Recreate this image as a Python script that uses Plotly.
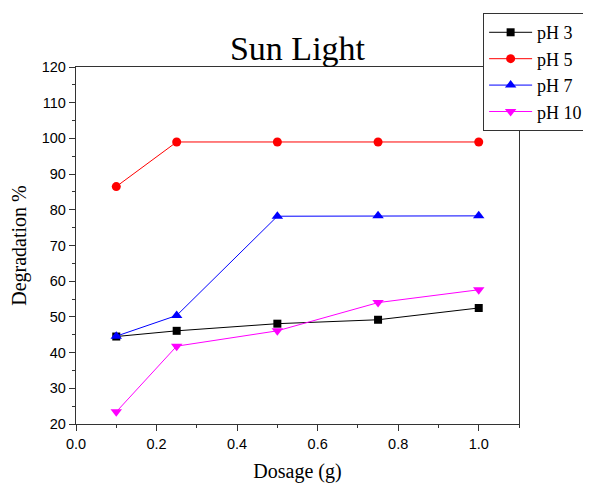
import plotly.graph_objects as go

dosage = [0.1, 0.25, 0.5, 0.75, 1.0]
ph3 = [44.5, 46.1, 48.1, 49.2, 52.5]
ph5 = [86.5, 99.0, 99.0, 99.0, 99.0]
ph7 = [44.6, 50.4, 78.2, 78.3, 78.3]
ph10 = [23.4, 41.8, 46.1, 54.0, 57.6]

series = [
    ("pH 3", ph3, "black", "square", 8),
    ("pH 5", ph5, "red", "circle", 9),
    ("pH 7", ph7, "blue", "triangle-up", 10),
    ("pH 10", ph10, "magenta", "triangle-down", 10),
]

fig = go.Figure()
for name, vals, col, sym, sz in series:
    fig.add_trace(go.Scatter(
        x=dosage, y=vals, name=name, mode="lines+markers",
        line=dict(color=col, width=1),
        marker=dict(symbol=sym, size=sz, color=col, line=dict(width=0)),
    ))

axis_common = dict(
    showline=True, linecolor="#333", linewidth=1.3, mirror=True,
    ticks="outside", ticklen=6, tickwidth=1, tickcolor="#333",
    showgrid=False, zeroline=False,
    tickfont=dict(family="Liberation Sans, Arial", size=14.5, color="black"),
)

fig.update_xaxes(
    range=[0, 1.1], dtick=0.2, tick0=0, tickformat=".1f",
    minor=dict(dtick=0.1, ticks="outside", ticklen=3, tickcolor="#333"),
    title=dict(text="Dosage (g)", font=dict(family="Liberation Serif, serif", size=20, color="black"), standoff=13),
    **axis_common,
)
fig.update_yaxes(
    range=[20, 120], dtick=10, tick0=20,
    minor=dict(dtick=5, ticks="outside", ticklen=3, tickcolor="#333"),
    title=dict(text="Degradation %", font=dict(family="Liberation Serif, serif", size=20, color="black"), standoff=10),
    **axis_common,
)

W, H = 583, 478
fig.update_layout(
    width=W, height=H,
    margin=dict(l=68, r=72, t=59, b=62, autoexpand=False),
    plot_bgcolor="white", paper_bgcolor="white",
    title=dict(text="Sun Light", x=(68 + 443 / 2) / W, xref="container", xanchor="center",
               y=1 - 52 / H, yref="container", yanchor="bottom",
               font=dict(family="Liberation Serif, serif", size=34, color="black")),
    legend=dict(x=0.919, y=1.151, xanchor="left", yanchor="top",
                xref="paper", yref="paper",
                bordercolor="#333", borderwidth=1, bgcolor="white",
                font=dict(family="Liberation Serif, serif", size=18, color="black"),
                tracegroupgap=0, itemwidth=43),
    showlegend=True,
)

fig.write_html("out.html")
